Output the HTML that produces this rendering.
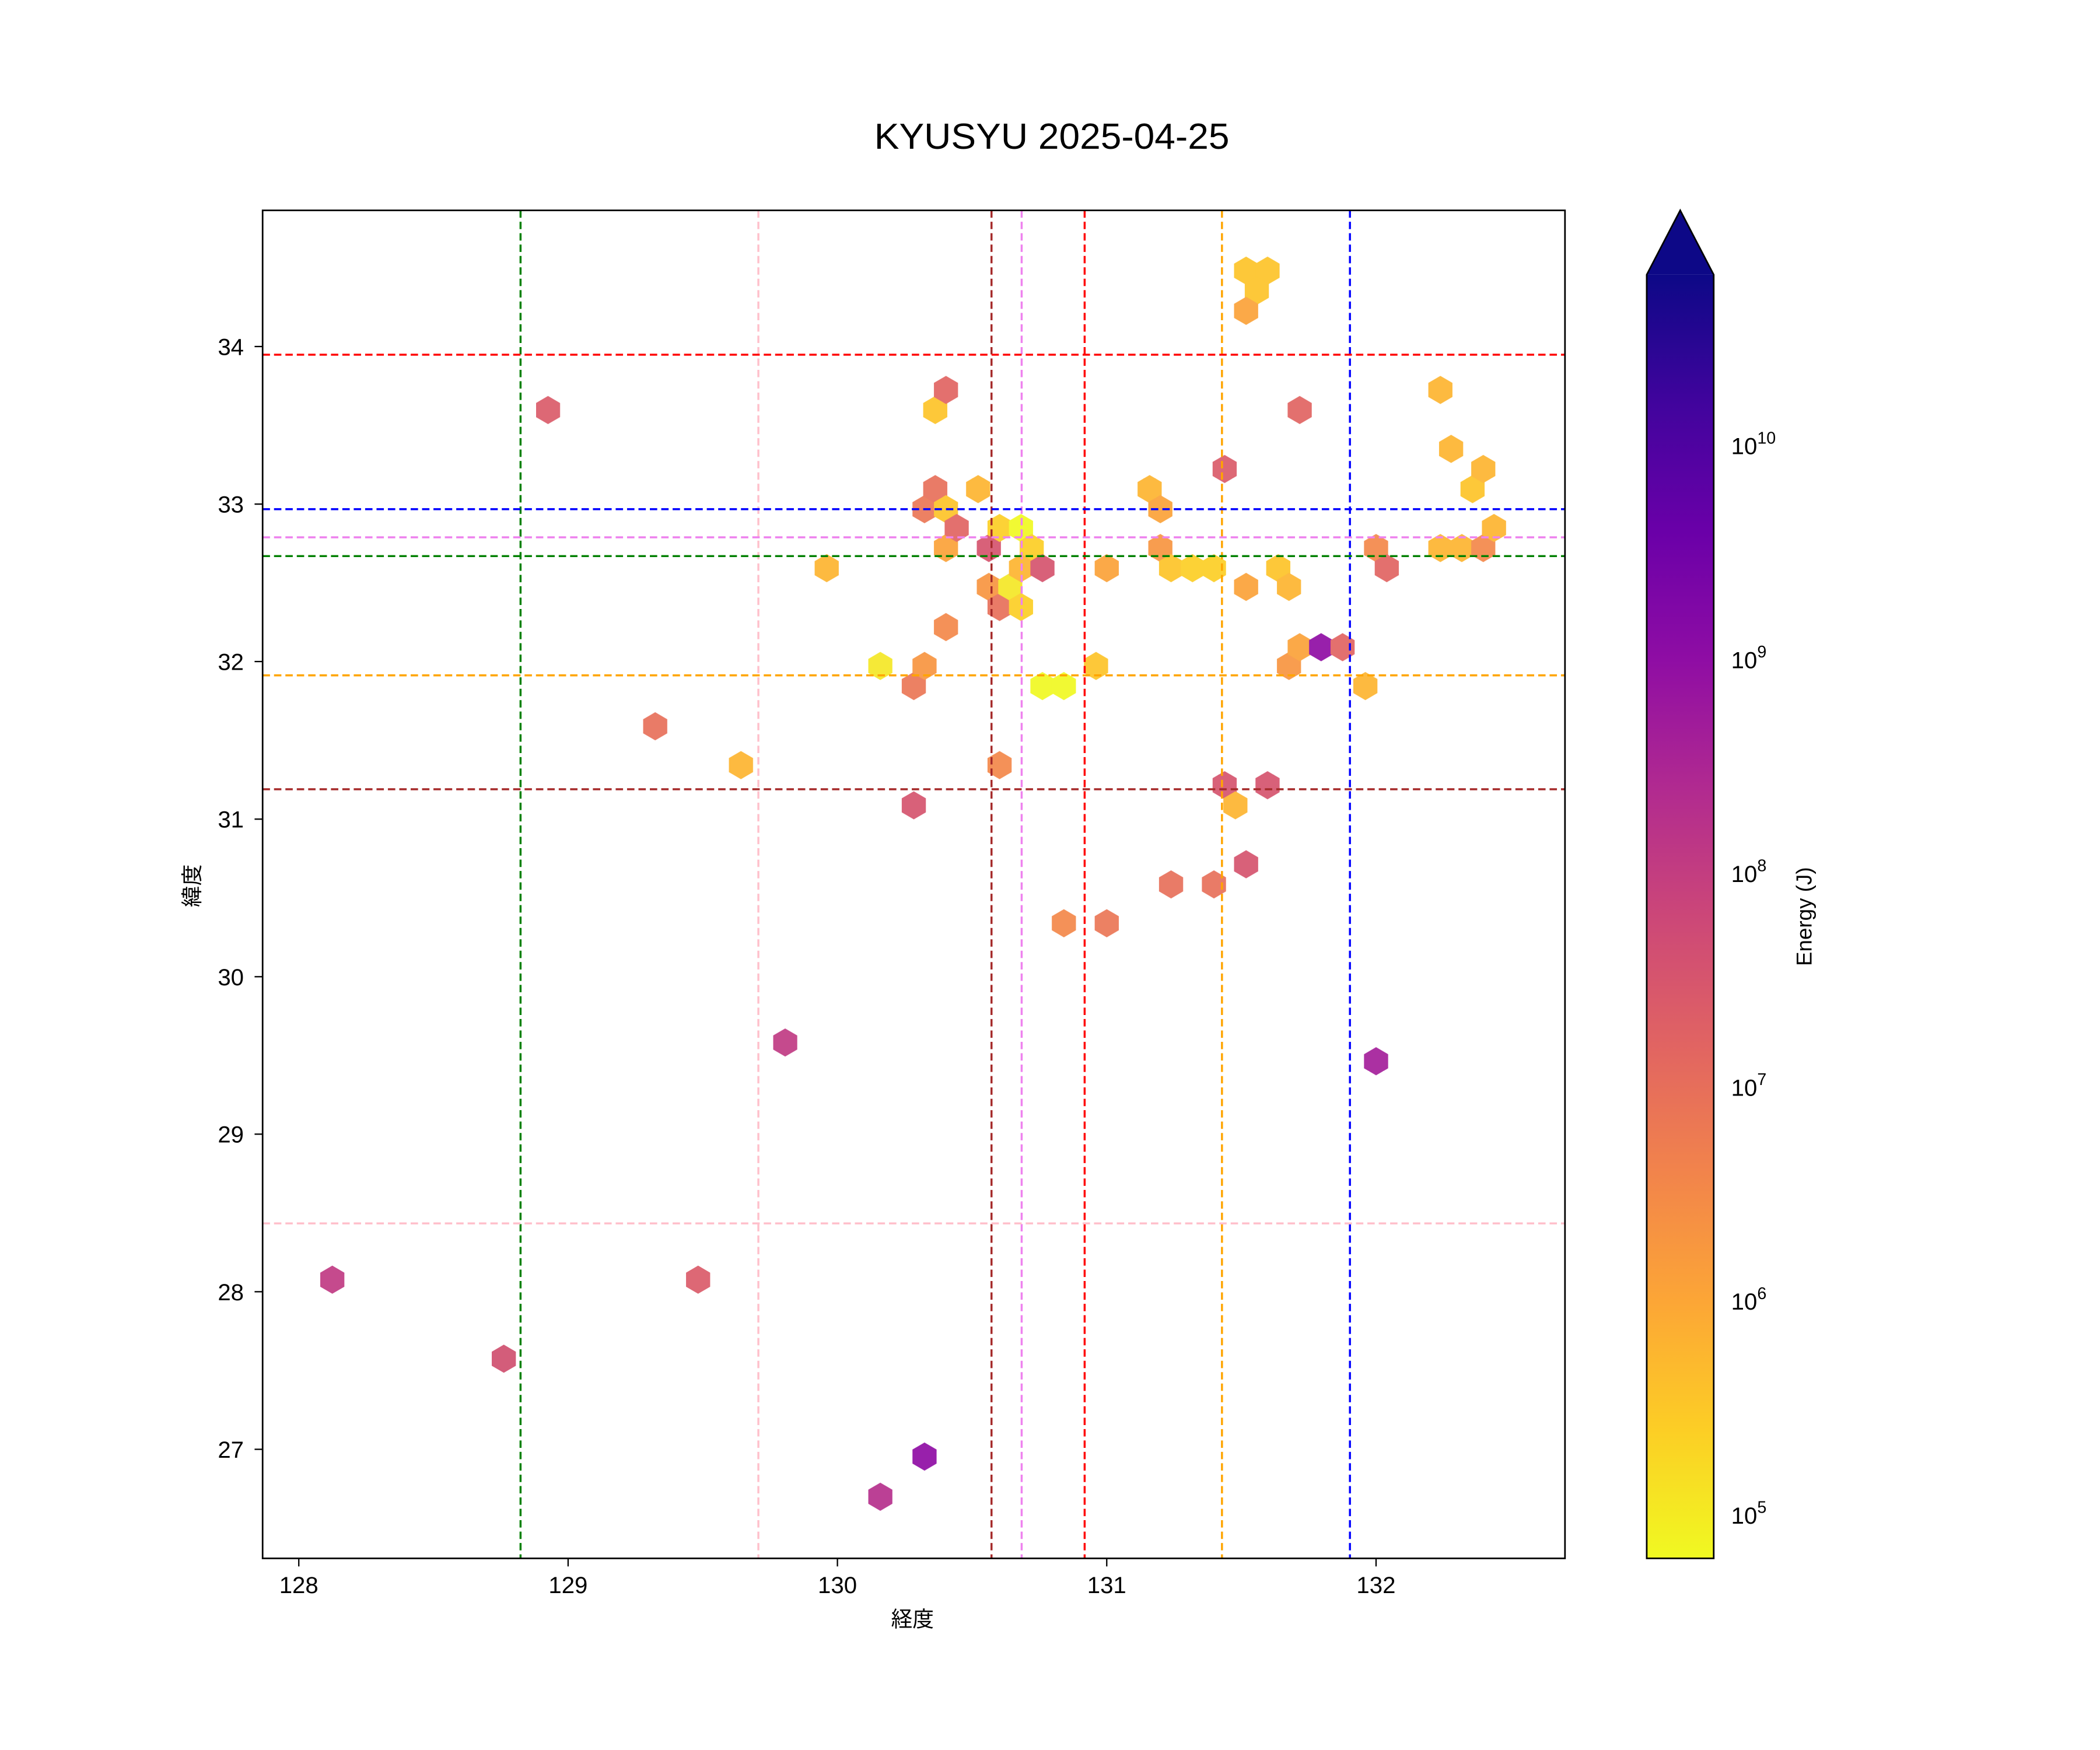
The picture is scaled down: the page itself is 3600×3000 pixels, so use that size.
<!DOCTYPE html>
<html><head><meta charset="utf-8"><style>html,body{margin:0;padding:0;background:#fff}svg{display:block}</style></head>
<body>
<svg width="3600" height="3000" viewBox="0 0 1567.3 1306" preserveAspectRatio="none" xmlns="http://www.w3.org/2000/svg" font-family="Liberation Sans, Noto Sans CJK JP, sans-serif">
<defs>
<linearGradient id="pl" x1="0" y1="1" x2="0" y2="0">
<stop offset="0" stop-color="#f0f921"/><stop offset="0.1" stop-color="#fcce25"/><stop offset="0.2" stop-color="#fca636"/><stop offset="0.3" stop-color="#f2844b"/><stop offset="0.4" stop-color="#e16462"/><stop offset="0.5" stop-color="#cc4778"/><stop offset="0.6" stop-color="#b12a90"/><stop offset="0.7" stop-color="#8f0da4"/><stop offset="0.8" stop-color="#6a00a8"/><stop offset="0.9" stop-color="#41049d"/><stop offset="1" stop-color="#0d0887"/>
</linearGradient>
<polygon id="h" points="0,-10.5 9,-5.25 9,5.25 0,10.5 -9,5.25 -9,-5.25"/>
</defs>
<rect width="1567.3" height="1306" fill="#fff"/>
<text x="785" y="111" font-size="27" text-anchor="middle" textLength="265" lengthAdjust="spacingAndGlyphs">KYUSYU 2025-04-25</text>
<g opacity="0.92">
<use href="#h" x="248" y="955" fill="#c03a83"/>
<use href="#h" x="376" y="1014" fill="#d04f6f"/>
<use href="#h" x="409" y="306" fill="#da5b69"/>
<use href="#h" x="489" y="542" fill="#e8705a"/>
<use href="#h" x="521" y="955" fill="#da5b69"/>
<use href="#h" x="553" y="571" fill="#fdb42f"/>
<use href="#h" x="586" y="778" fill="#c03a83"/>
<use href="#h" x="617" y="424" fill="#fdb42f"/>
<use href="#h" x="657" y="1117" fill="#b52f8c"/>
<use href="#h" x="690" y="1087" fill="#8f0da4"/>
<use href="#h" x="682" y="601" fill="#d5536d"/>
<use href="#h" x="657" y="497" fill="#f5e726"/>
<use href="#h" x="682" y="512" fill="#eb7655"/>
<use href="#h" x="690" y="497" fill="#f89540"/>
<use href="#h" x="690" y="380" fill="#eb7655"/>
<use href="#h" x="698" y="365" fill="#e8705a"/>
<use href="#h" x="698" y="306" fill="#fdc328"/>
<use href="#h" x="706" y="291" fill="#e16462"/>
<use href="#h" x="706" y="380" fill="#fdc328"/>
<use href="#h" x="706" y="409" fill="#fba238"/>
<use href="#h" x="714" y="394" fill="#e16462"/>
<use href="#h" x="706" y="468" fill="#f48849"/>
<use href="#h" x="730" y="365" fill="#fdb42f"/>
<use href="#h" x="738" y="409" fill="#d5536d"/>
<use href="#h" x="738" y="438" fill="#f89540"/>
<use href="#h" x="746" y="453" fill="#e8705a"/>
<use href="#h" x="746" y="394" fill="#fcce25"/>
<use href="#h" x="754" y="438" fill="#f5e726"/>
<use href="#h" x="762" y="394" fill="#f0f921"/>
<use href="#h" x="770" y="409" fill="#fcce25"/>
<use href="#h" x="762" y="424" fill="#fdb42f"/>
<use href="#h" x="778" y="424" fill="#d5536d"/>
<use href="#h" x="762" y="453" fill="#fcce25"/>
<use href="#h" x="746" y="571" fill="#f48849"/>
<use href="#h" x="778" y="512" fill="#f0f921"/>
<use href="#h" x="794" y="512" fill="#f0f921"/>
<use href="#h" x="794" y="689" fill="#f48849"/>
<use href="#h" x="818" y="497" fill="#fdc328"/>
<use href="#h" x="826" y="424" fill="#fba238"/>
<use href="#h" x="826" y="689" fill="#eb7655"/>
<use href="#h" x="858" y="365" fill="#fdb42f"/>
<use href="#h" x="866" y="380" fill="#fba238"/>
<use href="#h" x="866" y="409" fill="#f89540"/>
<use href="#h" x="874" y="424" fill="#fdc328"/>
<use href="#h" x="890" y="424" fill="#fcce25"/>
<use href="#h" x="906" y="424" fill="#fcce25"/>
<use href="#h" x="874" y="660" fill="#e8705a"/>
<use href="#h" x="906" y="660" fill="#e8705a"/>
<use href="#h" x="914" y="350" fill="#da5b69"/>
<use href="#h" x="914" y="586" fill="#d5536d"/>
<use href="#h" x="922" y="601" fill="#fdb42f"/>
<use href="#h" x="930" y="645" fill="#d5536d"/>
<use href="#h" x="930" y="202" fill="#fdc328"/>
<use href="#h" x="946" y="202" fill="#fdc328"/>
<use href="#h" x="938" y="217" fill="#fdc328"/>
<use href="#h" x="930" y="232" fill="#fba238"/>
<use href="#h" x="930" y="438" fill="#fba238"/>
<use href="#h" x="946" y="586" fill="#d5536d"/>
<use href="#h" x="954" y="424" fill="#fdc328"/>
<use href="#h" x="962" y="438" fill="#fdb42f"/>
<use href="#h" x="962" y="497" fill="#f89540"/>
<use href="#h" x="970" y="483" fill="#fba238"/>
<use href="#h" x="970" y="306" fill="#e16462"/>
<use href="#h" x="986" y="483" fill="#8f0da4"/>
<use href="#h" x="1002" y="483" fill="#e16462"/>
<use href="#h" x="1019" y="512" fill="#fdb42f"/>
<use href="#h" x="1027" y="409" fill="#f48849"/>
<use href="#h" x="1035" y="424" fill="#e16462"/>
<use href="#h" x="1027" y="792" fill="#a41e9a"/>
<use href="#h" x="1075" y="291" fill="#fdb42f"/>
<use href="#h" x="1083" y="335" fill="#fdb42f"/>
<use href="#h" x="1075" y="409" fill="#fdb42f"/>
<use href="#h" x="1091" y="409" fill="#fdb42f"/>
<use href="#h" x="1099" y="365" fill="#fdc328"/>
<use href="#h" x="1107" y="350" fill="#fdb42f"/>
<use href="#h" x="1107" y="409" fill="#f48849"/>
<use href="#h" x="1115" y="394" fill="#fdb42f"/>
</g>
<g stroke-width="1.5" stroke-dasharray="5.5,3" fill="none">
<line x1="388.5" y1="157" x2="388.5" y2="1163" stroke="green"/>
<line x1="566" y1="157" x2="566" y2="1163" stroke="pink"/>
<line x1="740" y1="157" x2="740" y2="1163" stroke="brown"/>
<line x1="762.5" y1="157" x2="762.5" y2="1163" stroke="violet"/>
<line x1="809.5" y1="157" x2="809.5" y2="1163" stroke="red"/>
<line x1="912" y1="157" x2="912" y2="1163" stroke="orange"/>
<line x1="1007.5" y1="157" x2="1007.5" y2="1163" stroke="blue"/>
<line x1="196" y1="264.7" x2="1168" y2="264.7" stroke="red"/>
<line x1="196" y1="380" x2="1168" y2="380" stroke="blue"/>
<line x1="196" y1="401" x2="1168" y2="401" stroke="violet"/>
<line x1="196" y1="415" x2="1168" y2="415" stroke="green"/>
<line x1="196" y1="504" x2="1168" y2="504" stroke="orange"/>
<line x1="196" y1="589" x2="1168" y2="589" stroke="brown"/>
<line x1="196" y1="913" x2="1168" y2="913" stroke="pink"/>
</g>
<rect x="196" y="157" width="972" height="1006" fill="none" stroke="#000" stroke-width="1.2"/>
<g stroke="#000" stroke-width="1">
<line x1="223" y1="1163" x2="223" y2="1169"/><line x1="424" y1="1163" x2="424" y2="1169"/><line x1="625" y1="1163" x2="625" y2="1169"/><line x1="826" y1="1163" x2="826" y2="1169"/><line x1="1027" y1="1163" x2="1027" y2="1169"/>
<line x1="190" y1="258.6" x2="196" y2="258.6"/><line x1="190" y1="376.2" x2="196" y2="376.2"/><line x1="190" y1="493.7" x2="196" y2="493.7"/><line x1="190" y1="611.3" x2="196" y2="611.3"/><line x1="190" y1="728.9" x2="196" y2="728.9"/><line x1="190" y1="846.4" x2="196" y2="846.4"/><line x1="190" y1="964" x2="196" y2="964"/><line x1="190" y1="1081.6" x2="196" y2="1081.6"/>
</g>
<g font-size="17.5" text-anchor="middle">
<text x="223" y="1189">128</text><text x="424" y="1189">129</text><text x="625" y="1189">130</text><text x="826" y="1189">131</text><text x="1027" y="1189">132</text>
</g>
<g font-size="17.5" text-anchor="end">
<text x="182" y="265">34</text><text x="182" y="382.5">33</text><text x="182" y="500">32</text><text x="182" y="617.6">31</text><text x="182" y="735.2">30</text><text x="182" y="852.7">29</text><text x="182" y="970.3">28</text><text x="182" y="1088">27</text>
</g>
<text x="681" y="1214" font-size="16" text-anchor="middle">経度</text>
<text transform="translate(149,661) rotate(-90)" font-size="16" text-anchor="middle">緯度</text>
<rect x="1229" y="205" width="50" height="958" fill="url(#pl)"/>
<polygon points="1229,205 1254,157 1279,205" fill="#0d0887"/>
<path d="M1229,1163 L1229,205 L1254,157 L1279,205 L1279,1163 Z" fill="none" stroke="#000" stroke-width="1.2"/>
<g id="cbt" stroke="#000" stroke-width="1"></g>
<g font-size="17.5">
<text x="1292" y="1137">10<tspan font-size="12.5" dy="-8">5</tspan></text>
<text x="1292" y="977.4">10<tspan font-size="12.5" dy="-8">6</tspan></text>
<text x="1292" y="817.8">10<tspan font-size="12.5" dy="-8">7</tspan></text>
<text x="1292" y="658.2">10<tspan font-size="12.5" dy="-8">8</tspan></text>
<text x="1292" y="498.6">10<tspan font-size="12.5" dy="-8">9</tspan></text>
<text x="1292" y="339">10<tspan font-size="12.5" dy="-8">10</tspan></text>
</g>
<text transform="translate(1352,684) rotate(-90)" font-size="16" text-anchor="middle">Energy (J)</text>
<script>
(function(){var g=document.getElementById('cbt'),s='';
for(var e=4;e<=11;e++){for(var k=1;k<10;k++){var y=1130-(e-5+Math.log10(k))*159.6;if(y<205||y>1163)continue;var L=k==1?6:3.5;s+='<line x1="1279" x2="'+(1279+L)+'" y1="'+y+'" y2="'+y+'"/>';}}
g.innerHTML=s;})();
</script>
</svg>
</body></html>
